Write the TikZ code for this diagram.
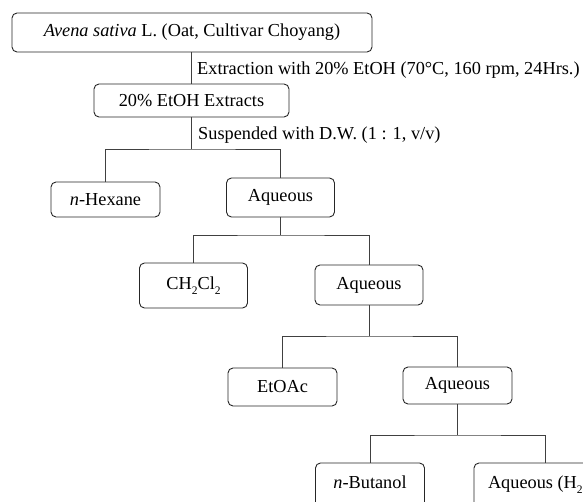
\documentclass[tikz,border=0pt]{standalone}
\usepackage{fontspec}
\setmainfont{Liberation Serif}
\newcommand\lowsub[1]{\raisebox{-5pt}{\fontsize{11.5}{11.5}\selectfont #1}}
\begin{document}
\begin{tikzpicture}[x=1pt,y=-1pt,
  box/.style={draw=black!85, line width=0.9pt, rounded corners=5pt, inner sep=0pt,
    font=\fontsize{18.3}{22}\selectfont, text=black},
  conn/.style={draw=black!75, line width=0.9pt},
  lbl/.style={anchor=west, inner sep=0pt, font=\fontsize{18.3}{22}\selectfont, text=black}]
\useasboundingbox (0,0) rectangle (583,502);
\clip (0,0) rectangle (583,502);

\node[box, minimum width=360, minimum height=39] (top) at (192,32.5) {\textit{Avena sativa} L. (Oat, Cultivar Choyang)};
\node[box, minimum width=195, minimum height=33] (ext) at (191.5,100.5) {20\% EtOH Extracts};
\node[box, minimum width=109, minimum height=35] (hex) at (105.5,199.5) {\textit{n}-Hexane};
\node[box, minimum width=108, minimum height=39] (aq1) at (280.5,197.5) {Aqueous};
\node[box, minimum width=108, minimum height=45] (ch2) at (193.5,285.5) {\raisebox{-2pt}{CH\lowsub{2}Cl\lowsub{2}}};
\node[box, minimum width=108, minimum height=40] (aq2) at (369,285) {Aqueous};
\node[box, minimum width=109, minimum height=38] (eto) at (282.5,387) {EtOAc};
\node[box, minimum width=109, minimum height=37] (aq3) at (457.5,385.5) {Aqueous};
\node[box, minimum width=109, minimum height=44] (but) at (370,485) {\raisebox{5pt}{\textit{n}-Butanol}};
\node[box, minimum width=142, minimum height=44] (aqh) at (545,485) {\raisebox{5pt}{Aqueous (H\lowsub{2}O)}};

\node[lbl] (l1) at (197,70) {Extraction with 20\% EtOH (70°C, 160 rpm, 24Hrs.)};
\node[lbl] (l2) at (198,135) {Suspended with D.W. (1 : 1, v/v)};

\coordinate (b1) at (191.5,149);
\coordinate (b2) at (280.5,235);
\coordinate (b3) at (369,336);
\coordinate (b4) at (457.5,435);

\draw[conn] (top.south -| ext.north) -- (ext.north);
\draw[conn] (ext.south) -- (b1);
\draw[conn] (hex.north) |- (b1) -| (aq1.north);
\draw[conn] (aq1.south) -- (b2);
\draw[conn] (ch2.north) |- (b2) -| (aq2.north);
\draw[conn] (aq2.south) -- (b3);
\draw[conn] (eto.north) |- (b3) -| (aq3.north);
\draw[conn] (aq3.south) -- (b4);
\draw[conn] (but.north) |- (b4) -| (aqh.north);
\end{tikzpicture}
\end{document}
